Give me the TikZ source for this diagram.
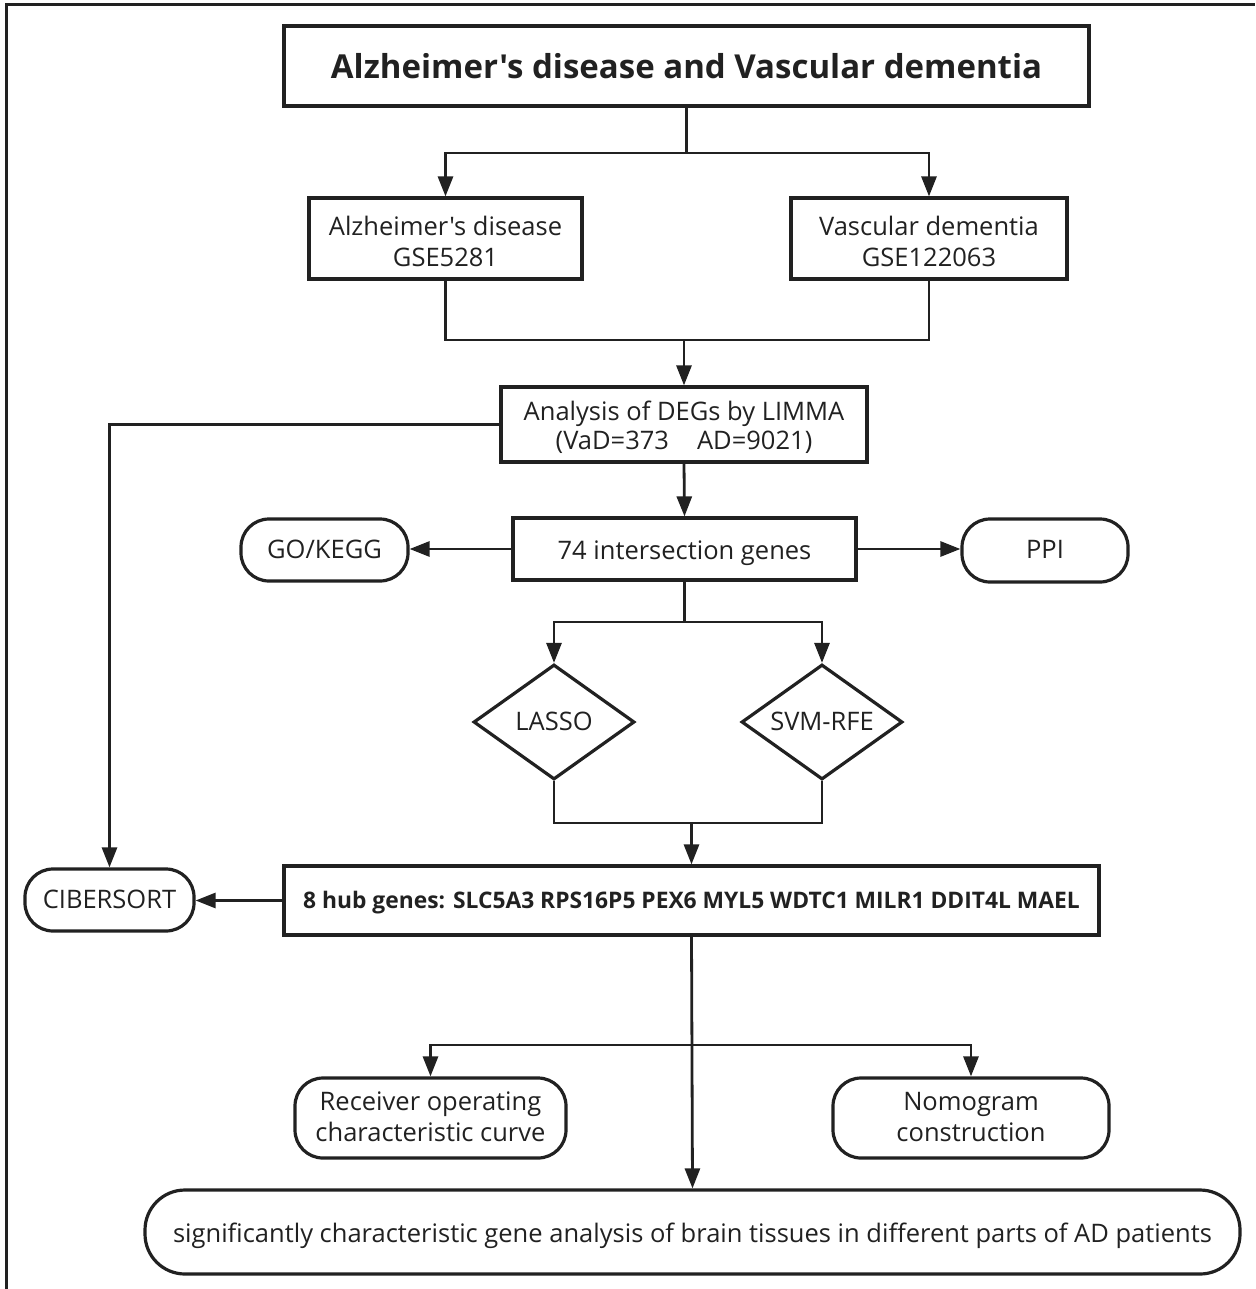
\documentclass[tikz,border=0pt]{standalone}
\usepackage{fontspec}
\setmainfont{Open Sans}[Ligatures=TeXOff]
\usetikzlibrary{arrows.meta,shapes.geometric}
\definecolor{ink}{gray}{0.13}
\newcommand{\dn}[2][4pt]{\raisebox{-#1}[\height][\depth]{\begin{tabular}{@{}c@{}}#2\end{tabular}}}
\begin{document}
\begin{tikzpicture}[x=1pt,y=1pt,
  every node/.style={text=ink,font=\fontsize{25.5}{31}\selectfont,align=center,inner sep=0},
  box/.style={draw=ink,line width=3.2pt,rectangle},
  rbox/.style={draw=ink,line width=3.2pt,rectangle,rounded corners=28pt},
  dia/.style={draw=ink,line width=3.2pt,diamond,minimum width=161pt,minimum height=115pt},
  conn/.style={draw=ink,line width=2.8pt},
  arr/.style={conn,-{Triangle[length=20pt,width=15pt]}}]
\useasboundingbox (0,0) rectangle (1255,-1289);
\draw[ink,line width=3pt] (6,-1289) -- (6,-5) -- (1255,-5);

\node[box,line width=4.5pt,minimum width=805pt,minimum height=80pt,font=\fontsize{33}{38}\bfseries] (title) at (686.5,-66) {Alzheimer's disease and Vascular dementia};
\node[box,minimum width=273pt,minimum height=81pt] (ad) at (445.5,-238.5) {\dn[6pt]{Alzheimer's disease\\GSE5281}};
\node[box,minimum width=276pt,minimum height=81pt] (vad) at (929,-238.5) {\dn[6pt]{Vascular dementia\\GSE122063}};
\node[box,minimum width=366pt,minimum height=75pt,font=\fontsize{25.5}{29}\selectfont] (deg) at (684,-424.5) {\dn[5pt]{Analysis of DEGs by LIMMA\\(VaD=373\hspace{1.1em}AD=9021)}};
\node[box,minimum width=343pt,minimum height=62pt] (int) at (684.5,-549) {\dn{74 intersection genes}};
\node[rbox,minimum width=167pt,minimum height=62pt] (go) at (324.5,-550) {\dn[2pt]{GO/KEGG}};
\node[rbox,minimum width=166pt,minimum height=63pt] (ppi) at (1045,-550.5) {\dn[2pt]{PPI}};
\node[dia] (lasso) at (554,-722) {\makebox[0pt]{\dn[2pt]{LASSO}}};
\node[dia] (svm) at (822,-722) {\makebox[0pt]{\dn[2pt]{SVM-RFE}}};
\node[box,minimum width=815pt,minimum height=69pt,font=\fontsize{22.8}{27}\bfseries] (hub) at (691.5,-900.5) {\dn[3pt]{8 hub genes: SLC5A3 RPS16P5 PEX6 MYL5 WDTC1 MILR1 DDIT4L MAEL}};
\node[rbox,minimum width=169pt,minimum height=62pt] (cib) at (109.5,-900) {\dn[2pt]{CIBERSORT}};
\node[rbox,minimum width=271pt,minimum height=80pt] (roc) at (430.5,-1118) {\dn[2pt]{Receiver operating\\characteristic curve}};
\node[rbox,minimum width=276pt,minimum height=80pt] (nom) at (971,-1118) {\dn[2pt]{Nomogram\\construction}};
\node[rbox,rounded corners=40pt,minimum width=1095pt,minimum height=84pt] (bot) at (692.5,-1232) {\dn{significantly characteristic gene analysis of brain tissues in different parts of AD patients}};

\coordinate (j1) at (686.5,-153);
\draw[conn] (title.south) -- (j1);
\draw[arr] (j1) -| (ad.north);
\draw[arr] (j1) -| (vad.north);

\coordinate (j2) at (684,-340);
\draw[conn] (ad.south) |- (j2) -| (vad.south);
\draw[arr] (j2) -- (deg.north);

\draw[arr] (deg.west) -| (cib.north);
\draw[arr] (deg.south) -- (int.north);
\draw[arr] (int.west) -- (go.east |- int.west);
\draw[arr] (int.east) -- (ppi.west |- int.east);

\coordinate (j3) at (684.5,-622);
\draw[conn] (int.south) -- (j3);
\draw[arr] (j3) -| (lasso.north);
\draw[arr] (j3) -| (svm.north);

\coordinate (j4) at (691.5,-823);
\draw[conn] (lasso.south) |- (j4) -| (svm.south);
\draw[arr] (j4) -- (hub.north);

\draw[arr] (hub.west) -- (cib.east |- hub.west);

\coordinate (j5) at (691.5,-1045);
\draw[arr] (hub.south) -- (bot.north);
\draw[arr] (j5) -| (roc.north);
\draw[arr] (j5) -| (nom.north);
\end{tikzpicture}
\end{document}
